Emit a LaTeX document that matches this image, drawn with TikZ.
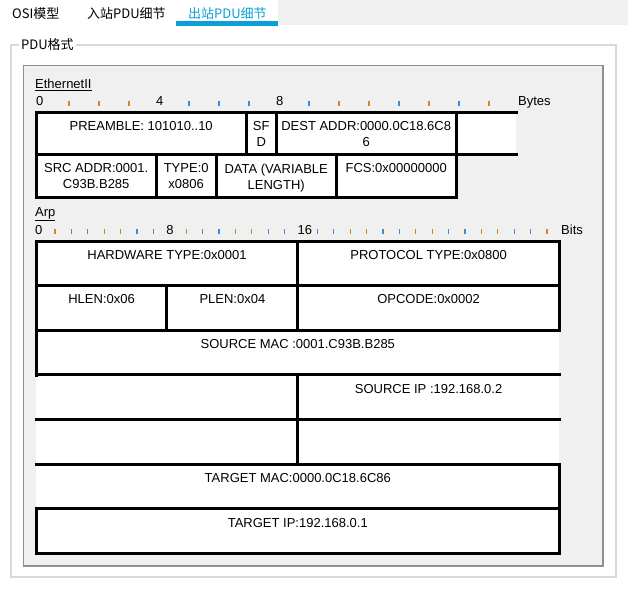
\documentclass[tikz,border=0pt]{standalone}
\usepackage{fontspec}
\setmainfont{Liberation Sans}
\newfontfamily\cjk{Noto Sans CJK SC}
\usepackage{tikz}
\definecolor{panel}{HTML}{F0F0F0}
\definecolor{panelline}{HTML}{8E8F94}
\definecolor{groupline}{HTML}{D9D9D9}
\definecolor{tabblue}{HTML}{0A9FD8}
\definecolor{tickorange}{HTML}{D4832C}
\definecolor{tickblue}{HTML}{3C8BD4}

\begin{document}
\begin{tikzpicture}[x=1pt,y=-1pt,
  every node/.style={inner sep=0pt,font=\fontsize{13}{16}\selectfont},
  field/.style={fill=white,anchor=north west},
  ethfield/.style={field,minimum width=30*#1,minimum height=42.5},
  arpfield/.style={field,minimum width=16.35*#1,minimum height=44.64},
  ftext/.style={anchor=north,yshift=-9pt,align=center},
  rule/.style={line width=3pt,line cap=rect},
  tick/.style={line width=1.2pt},
  tab/.style={anchor=base west,font=\cjk\fontsize{13}{16}\selectfont}]
\fill[white] (0,0) rectangle (628,590);
\useasboundingbox (0,0) rectangle (628,590);
\fill[panel] (278,0) rectangle (628,25);
\fill[tabblue] (176,21) rectangle (278,25.5);
\node[tab] (osi) at (12,18.5) {OSI模型};
\node[tab] (inbound) at (87,18.5) {入站PDU细节};
\node[tab,tabblue] (outbound) at (188,18.5) {出站PDU细节};
\draw[groupline,line width=1.5pt] (11,45) rectangle (616,577);
\node[tab,fill=white,inner xsep=2pt] (group) at (19,49.3) {PDU格式};
\filldraw[fill=panel,draw=panelline,line width=1.3pt] (23.5,65.5) rectangle (603,566);
\node[anchor=base west] (ethname) at (35,88.5) {\underline{EthernetII}};
\foreach \k in {0,4,8}
  \node[anchor=base west] (eb\k) at (36+30*\k,105.5) {\k};
\node[anchor=base west] (bytes) at (518,105.5) {Bytes};
\node[ethfield=7,label={[ftext]north:{PREAMBLE: 101010..10}}] (preamble) at (36,112) {};
\node[ethfield=1,label={[ftext]north:{SF\\D}}] (sfd) at (246,112) {};
\node[ethfield=6,label={[ftext]north:{DEST ADDR:0000.0C18.6C8\\6}}] (dest) at (276,112) {};
\node[ethfield=2] (epad) at (456,112) {};
\node[ethfield=4,label={[ftext]north:{SRC ADDR:0001.\\C93B.B285}}] (src) at (36,154.5) {};
\node[ethfield=2,label={[ftext]north:{TYPE:0\\x0806}}] (type) at (156,154.5) {};
\node[ethfield=4,label={[ftext]north:{DATA (VARIABLE\\LENGTH)}}] (data) at (216,154.5) {};
\node[ethfield=4,label={[ftext]north:{FCS:0x00000000}}] (fcs) at (336,154.5) {};
\draw[rule] (preamble.north west) -- (epad.north east);
\draw[rule] (preamble.south west) -- (epad.south east);
\draw[rule] (src.south west) -- (fcs.south east);
\draw[rule] (preamble.north west) -- (src.south west);
\draw[rule] (fcs.north east) -- (fcs.south east);
\foreach \n in {sfd,dest,epad,type,data,fcs}
  \draw[rule] (\n.north west) -- (\n.south west);
\node[anchor=base west] (arpname) at (35,216.5) {\underline{Arp}};
\foreach \k in {0,8,16}
  \node[anchor=base west] (ab\k) at (35+16.4*\k,234) {\k};
\node[anchor=base west] (bits) at (561,234) {Bits};
\node[arpfield=16,label={[ftext]north:{HARDWARE TYPE:0x0001}}] (hw) at (36,241) {};
\node[arpfield=16,label={[ftext]north:{PROTOCOL TYPE:0x0800}}] (proto) at (297.6,241) {};
\node[arpfield=8,label={[ftext]north:{HLEN:0x06}}] (hlen) at (36,285.64) {};
\node[arpfield=8,label={[ftext]north:{PLEN:0x04}}] (plen) at (166.8,285.64) {};
\node[arpfield=16,label={[ftext]north:{OPCODE:0x0002}}] (opcode) at (297.6,285.64) {};
\node[arpfield=32,label={[ftext]north:{SOURCE MAC :0001.C93B.B285}}] (smac) at (36,330.28) {};
\node[arpfield=16] (srcfill) at (36,374.92) {};
\node[arpfield=16,label={[ftext]north:{SOURCE IP :192.168.0.2}}] (sip) at (297.6,374.92) {};
\node[arpfield=16] (dstfill) at (36,419.56) {};
\node[arpfield=16] (dstpad) at (297.6,419.56) {};
\node[arpfield=32,label={[ftext]north:{TARGET MAC:0000.0C18.6C86}}] (tmac) at (36,464.2) {};
\node[arpfield=32,label={[ftext]north:{TARGET IP:192.168.0.1}}] (tip) at (36,508.84) {};
\foreach \a/\b in {hw/proto,hlen/opcode,smac/smac,srcfill/sip,dstfill/dstpad,tmac/tmac,tip/tip}
  \draw[rule] (\a.north west) -- (\b.north east);
\draw[rule] (tip.south west) -- (tip.south east);
\draw[rule] (hw.north west) -- (smac.south west);
\draw[rule] (tip.north west) -- (tip.south west);
\draw[rule] (proto.north east) -- (opcode.south east);
\draw[rule] (tmac.north east) -- (tip.south east);
\foreach \n in {proto,plen,opcode,sip,dstpad}
  \draw[rule] (\n.north west) -- (\n.south west);
\foreach \k/\c in {1/tickorange,2/tickorange,3/tickorange,5/tickblue,6/tickblue,7/tickblue,
    9/tickblue,10/tickorange,11/tickorange,12/tickblue,13/tickorange,14/tickblue,15/tickorange}
  \draw[tick,\c] (39+30*\k,100.5) -- ++(0,5);
\foreach \k/\c in {1/tickorange,2/tickblue,3/tickblue,4/tickorange,5/tickorange,6/tickblue,7/tickblue,
    9/tickorange,10/tickblue,11/tickblue,12/tickorange,13/tickorange,14/tickblue,15/tickblue,
    17/tickblue,18/tickblue,19/tickorange,20/tickorange,21/tickblue,22/tickblue,23/tickorange,
    24/tickorange,25/tickblue,26/tickblue,27/tickorange,28/tickorange,29/tickblue,30/tickblue,31/tickorange}
  \draw[tick,\c] (38.5+16.4*\k,229) -- ++(0,5);
\end{tikzpicture}
\end{document}
